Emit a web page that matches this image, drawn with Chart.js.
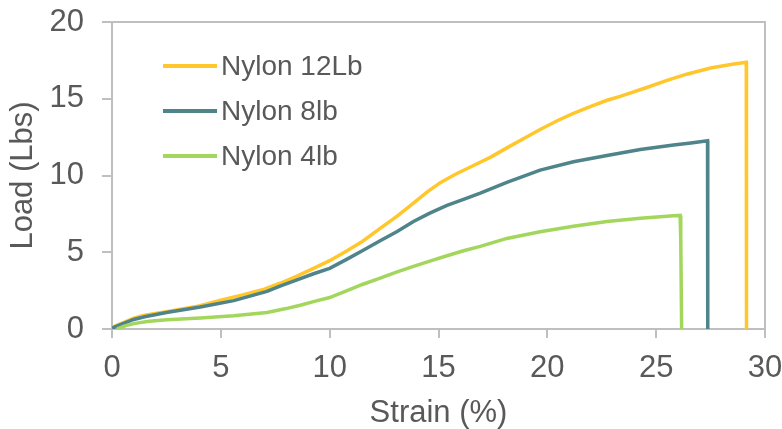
<!DOCTYPE html>
<html>
<head>
<meta charset="utf-8">
<script src="https://cdn.jsdelivr.net/npm/chart.js@4"></script>
<style>
  body { margin: 0; background: #fff; }
  #wrap { width: 782px; height: 429px; }
</style>
</head>
<body>
<div id="wrap"><canvas id="chart" width="782" height="429"></canvas></div>
<script>
// values
const seriesNames = ['Nylon 12Lb', 'Nylon 8lb', 'Nylon 4lb'];
const seriesColors = ['#FFC72C', '#4E848A', '#A3D65C'];

const strain12 = [0, 0.5, 1.0, 1.5, 2.5, 4.0, 5.0, 6.0, 7.0, 7.72, 8.5, 9.26, 10.0, 10.8, 11.5, 12.32, 13.1, 13.85, 14.5, 15.1, 15.8, 16.61, 17.4, 18.14, 18.9, 19.67, 20.5, 21.2, 22.0, 22.74, 23.35, 24.5, 25.5, 26.4, 27.5, 28.5, 29.14, 29.15];
const load12 = [0.1, 0.4, 0.7, 0.9, 1.12, 1.5, 1.88, 2.22, 2.6, 2.98, 3.45, 3.95, 4.45, 5.1, 5.7, 6.55, 7.35, 8.2, 8.95, 9.55, 10.1, 10.65, 11.2, 11.8, 12.4, 13.0, 13.6, 14.05, 14.5, 14.9, 15.15, 15.7, 16.2, 16.6, 17.0, 17.25, 17.37, 0];

const strain8 = [0, 0.5, 1.0, 1.5, 2.5, 4.06, 5.59, 7.12, 7.72, 8.5, 9.26, 10.0, 10.8, 11.5, 12.32, 13.1, 13.85, 14.6, 15.39, 16.15, 16.92, 18.14, 19.67, 21.2, 22.74, 24.27, 25.8, 26.6, 27.36, 27.37];
const load8 = [0.05, 0.35, 0.62, 0.8, 1.08, 1.43, 1.85, 2.45, 2.8, 3.2, 3.6, 3.95, 4.55, 5.1, 5.75, 6.35, 7.0, 7.55, 8.05, 8.45, 8.85, 9.55, 10.35, 10.9, 11.3, 11.7, 11.98, 12.12, 12.27, 0];

const strain4 = [0.23, 0.6, 1.0, 1.7, 2.53, 4.06, 5.59, 7.12, 8.0, 8.65, 9.3, 10.0, 10.8, 11.5, 12.32, 13.1, 13.85, 14.6, 15.39, 16.15, 16.92, 18.14, 19.67, 21.2, 22.74, 24.27, 25.8, 26.1, 26.13, 26.17];
const load4 = [0, 0.2, 0.35, 0.5, 0.6, 0.72, 0.87, 1.08, 1.33, 1.55, 1.8, 2.05, 2.5, 2.9, 3.32, 3.72, 4.08, 4.42, 4.77, 5.1, 5.38, 5.9, 6.33, 6.7, 7.0, 7.22, 7.38, 7.4, 5.8, 0];

const xTicks = [0, 5, 10, 15, 20, 25, 30];
const yTicks = [0, 5, 10, 15, 20];

const gray = '#BFBFBF';
const textGray = '#595959';
const fontFamily = '"Liberation Sans", Arial, sans-serif';
const axisFont = { size: 31, family: fontFamily };

function toPoints(xs, ys) {
  return xs.map((x, i) => ({x: x, y: ys[i]}));
}

const allStrain = [strain12, strain8, strain4];
const allLoad = [load12, load8, load4];

const datasets = seriesNames.map((name, i) => ({
  label: name,
  data: toPoints(allStrain[i], allLoad[i]),
  borderColor: seriesColors[i],
  backgroundColor: seriesColors[i],
  borderWidth: 3.5,
  pointRadius: 0,
  tension: 0,
  fill: false,
  order: 3 - i   // later series drawn on top, like the reference
}));

// top + right frame lines and the in-plot legend
const framePlugin = {
  id: 'frame',
  afterDraw(chart) {
    const ctx = chart.ctx;
    const a = chart.chartArea;
    ctx.save();
    ctx.strokeStyle = gray;
    ctx.lineWidth = 2;
    ctx.beginPath();
    ctx.moveTo(a.left, a.top);
    ctx.lineTo(a.right, a.top);
    ctx.lineTo(a.right, a.bottom);
    ctx.stroke();

    // legend
    ctx.font = '28px ' + fontFamily;
    ctx.textBaseline = 'middle';
    ctx.fillStyle = textGray;
    chart.data.datasets.forEach((ds, i) => {
      const y = 66 + i * 45;
      ctx.strokeStyle = ds.borderColor;
      ctx.lineWidth = 4;
      ctx.beginPath();
      ctx.moveTo(163, y);
      ctx.lineTo(217, y);
      ctx.stroke();
      ctx.fillText(ds.label, 221, y + 1);
    });
    ctx.restore();
  }
};

new Chart(document.getElementById('chart'), {
  type: 'line',
  data: { datasets: datasets },
  options: {
    responsive: false,
    animation: false,
    layout: { padding: { top: 22, right: 17, left: 0, bottom: 0 } },
    plugins: { legend: { display: false }, tooltip: { enabled: false } },
    scales: {
      x: {
        type: 'linear',
        min: 0,
        max: 30,
        afterBuildTicks(scale) { scale.ticks = xTicks.map(v => ({value: v})); },
        afterFit(scale) { scale.height = 100; scale.paddingLeft = 0; scale.paddingRight = 0; },
        ticks: { color: textGray, font: axisFont, padding: 12, maxRotation: 0 },
        grid: { drawOnChartArea: false, color: gray, lineWidth: 2, tickLength: 9 },
        border: { color: gray, width: 2 },
        title: { display: true, text: 'Strain (%)', color: textGray, font: axisFont, padding: { top: 0, bottom: -3 } }
      },
      y: {
        type: 'linear',
        min: 0,
        max: 20,
        afterBuildTicks(scale) { scale.ticks = yTicks.map(v => ({value: v})); },
        afterFit(scale) { scale.width = 112; scale.paddingTop = 0; scale.paddingBottom = 0; },
        ticks: { color: textGray, font: axisFont, padding: 18 },
        grid: { drawOnChartArea: false, color: gray, lineWidth: 2, tickLength: 10 },
        border: { color: gray, width: 2 },
        title: { display: true, text: 'Load (Lbs)', color: textGray, font: axisFont, padding: { top: 5, bottom: 0 } }
      }
    }
  },
  plugins: [framePlugin]
});
</script>
</body>
</html>
